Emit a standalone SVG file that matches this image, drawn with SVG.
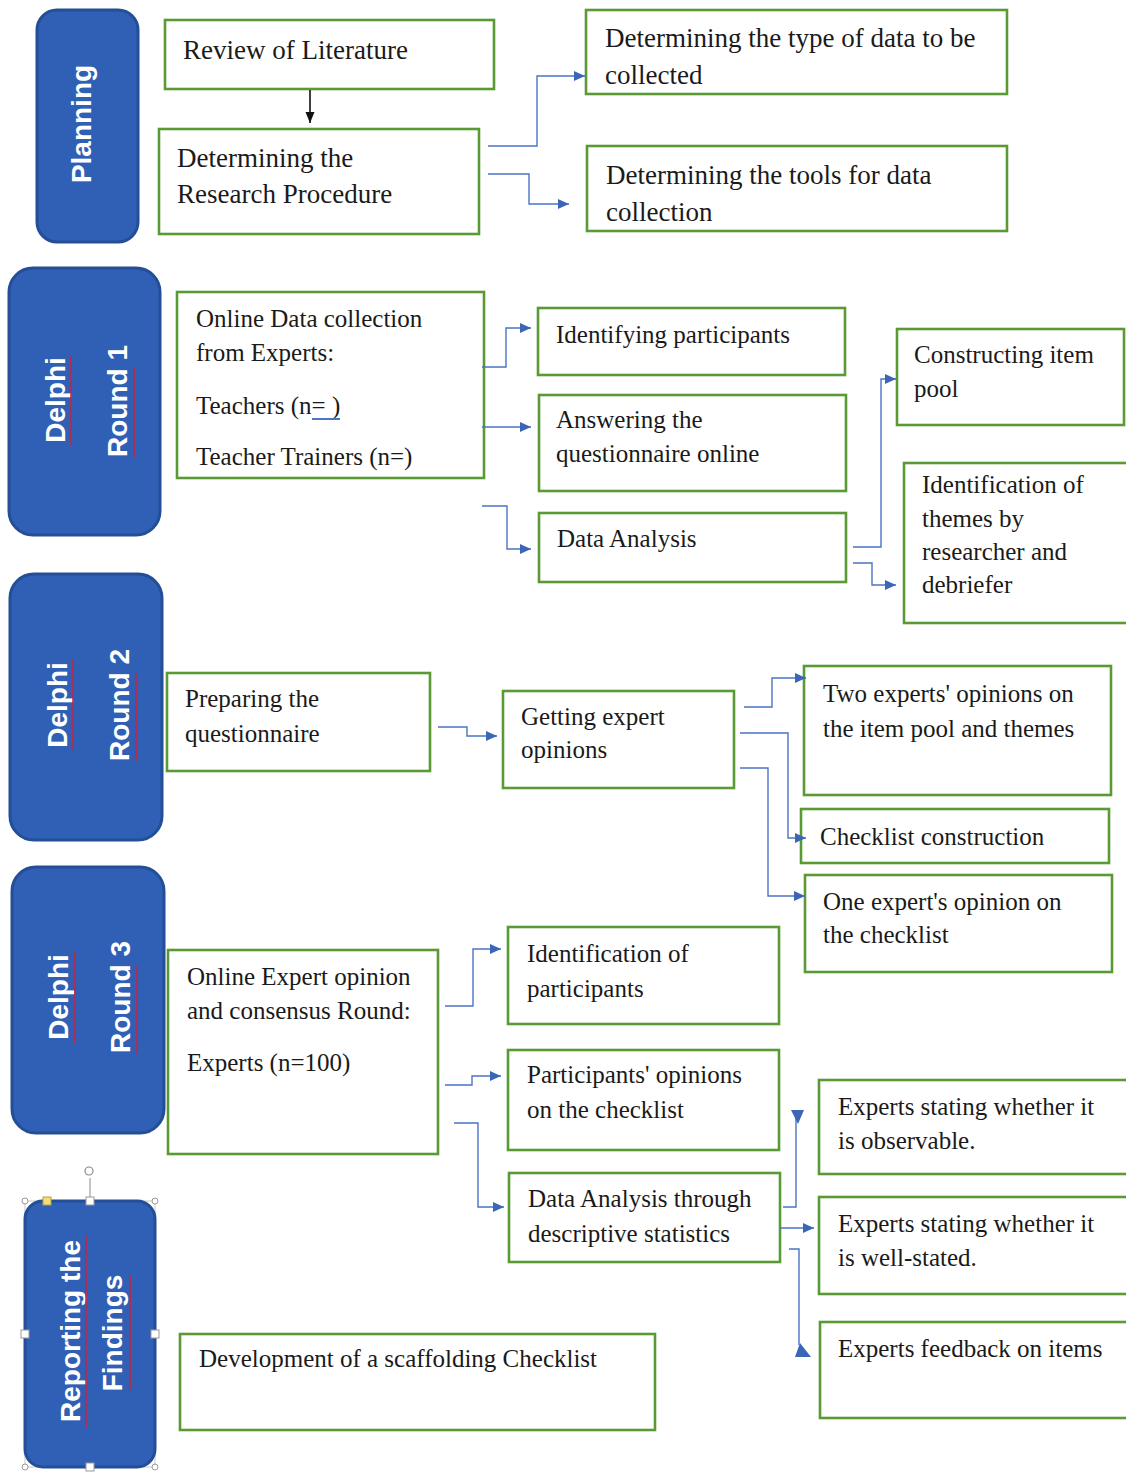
<svg xmlns="http://www.w3.org/2000/svg" width="1126" height="1473" viewBox="0 0 1126 1473">
<style>
.bg{fill:#ffffff}
.phase{fill:#2f60b5;stroke:#244f96;stroke-width:3}
.plabel{font-family:"Liberation Sans",Arial,sans-serif;font-weight:bold;font-size:28px;fill:#ffffff;text-anchor:middle}
.box{fill:#ffffff;stroke:#5a9a34;stroke-width:2.6}
.t{font-family:"Liberation Serif","Times New Roman",serif;font-size:25px;fill:#1a1a1a}
.t27{font-size:27px}
.con{fill:none;stroke:#4a74c4;stroke-width:1.4}
.blk{fill:none;stroke:#111111;stroke-width:1.6}
.tri{fill:#3b66b8}
.sq{stroke:#d0203a;stroke-width:1.5}
.hdl{fill:#ffffff;stroke:#9a9a9a;stroke-width:1}
</style>
<defs>
<marker id="arr" markerUnits="userSpaceOnUse" markerWidth="12" markerHeight="12" refX="11" refY="6" orient="auto">
<path d="M0,1 L11,6 L0,11 z" fill="#3b66b8"/>
</marker>
<marker id="arrk" markerUnits="userSpaceOnUse" markerWidth="12" markerHeight="12" refX="11" refY="6" orient="auto">
<path d="M0,1.5 L11,6 L0,10.5 z" fill="#111111"/>
</marker>
</defs>
<rect class="bg" x="0" y="0" width="1126" height="1473"/>

<!-- Phase labels -->
<g id="phase-planning">
<rect class="phase" x="37" y="10" width="101" height="232" rx="20"/>
<text class="plabel" font-size="27" transform="translate(91,124) rotate(-90)">Planning</text>
</g>
<g id="phase-round1">
<rect class="phase" x="9" y="268" width="151" height="267" rx="24"/>
<text class="plabel" transform="translate(65,400) rotate(-90)">Delphi</text>
<text class="plabel" transform="translate(127,401) rotate(-90)">Round 1</text>
<line class="sq" x1="71" y1="355" x2="71" y2="445"/>
<line class="sq" x1="134" y1="368" x2="134" y2="457"/>
</g>
<g id="phase-round2">
<rect class="phase" x="10" y="574" width="152" height="266" rx="24"/>
<text class="plabel" transform="translate(67,705) rotate(-90)">Delphi</text>
<text class="plabel" transform="translate(129,705) rotate(-90)">Round 2</text>
<line class="sq" x1="73" y1="660" x2="73" y2="750"/>
<line class="sq" x1="136" y1="673" x2="136" y2="762"/>
</g>
<g id="phase-round3">
<rect class="phase" x="12" y="867" width="152" height="266" rx="24"/>
<text class="plabel" transform="translate(68,997) rotate(-90)">Delphi</text>
<text class="plabel" transform="translate(130,997) rotate(-90)">Round 3</text>
<line class="sq" x1="75" y1="952" x2="75" y2="1043"/>
<line class="sq" x1="137" y1="965" x2="137" y2="1053"/>
</g>
<g id="phase-reporting">
<rect x="25" y="1201" width="130" height="266" fill="none" stroke="#c8c8c8" stroke-width="1"/>
<rect class="phase" x="25" y="1201" width="130" height="266" rx="18"/>
<text class="plabel" transform="translate(80,1331) rotate(-90)">Reporting the</text>
<text class="plabel" transform="translate(122,1333) rotate(-90)">Findings</text>
<line class="sq" x1="86" y1="1236" x2="86" y2="1427"/>
<line class="sq" x1="130" y1="1275" x2="130" y2="1390"/>
<line x1="90" y1="1197" x2="90" y2="1178" stroke="#8a8a8a" stroke-width="1"/>
<circle cx="89" cy="1171" r="4" fill="none" stroke="#8a8a8a" stroke-width="1.2"/>
<rect class="hdl" x="86" y="1197" width="8" height="8"/>
<rect class="hdl" x="21" y="1330" width="8" height="8"/>
<rect class="hdl" x="151" y="1330" width="8" height="8"/>
<rect class="hdl" x="86" y="1463" width="8" height="8"/>
<circle class="hdl" cx="25" cy="1201" r="3"/>
<circle class="hdl" cx="155" cy="1201" r="3"/>
<circle class="hdl" cx="25" cy="1467" r="3"/>
<circle class="hdl" cx="155" cy="1467" r="3"/>
<rect x="43" y="1197" width="8" height="8" fill="#f3dc7a" stroke="#b8a040" stroke-width="1"/>
</g>

<!-- Planning nodes -->
<g id="n-review">
<rect class="box" x="165" y="20" width="329" height="69"/>
<text class="t t27" x="183" y="59">Review of Literature</text>
</g>
<g id="n-procedure">
<rect class="box" x="159" y="129" width="320" height="105"/>
<text class="t t27" x="177" y="167">Determining the</text>
<text class="t t27" x="177" y="203">Research Procedure</text>
</g>
<g id="n-type">
<rect class="box" x="586" y="10" width="421" height="84"/>
<text class="t t27" x="605" y="47">Determining the type of data to be</text>
<text class="t t27" x="605" y="84">collected</text>
</g>
<g id="n-tools">
<rect class="box" x="587" y="146" width="420" height="85"/>
<text class="t t27" x="606" y="184">Determining the tools for data</text>
<text class="t t27" x="606" y="221">collection</text>
</g>

<!-- Round 1 nodes -->
<g id="n-online1">
<rect class="box" x="177" y="292" width="307" height="186"/>
<text class="t" x="196" y="327">Online Data collection</text>
<text class="t" x="196" y="361">from Experts:</text>
<text class="t" x="196" y="414">Teachers (n= )</text>
<text class="t" x="196" y="465">Teacher Trainers (n=)</text>
<line x1="312" y1="419" x2="340" y2="419" stroke="#4a74c4" stroke-width="2"/>
</g>
<g id="n-identifying">
<rect class="box" x="538" y="308" width="307" height="67"/>
<text class="t" x="556" y="343">Identifying participants</text>
</g>
<g id="n-answering">
<rect class="box" x="539" y="395" width="307" height="96"/>
<text class="t" x="556" y="428">Answering the</text>
<text class="t" x="556" y="462">questionnaire online</text>
</g>
<g id="n-analysis1">
<rect class="box" x="539" y="513" width="307" height="69"/>
<text class="t" x="557" y="547">Data Analysis</text>
</g>
<g id="n-itempool">
<rect class="box" x="897" y="329" width="227" height="96"/>
<text class="t" x="914" y="363">Constructing item</text>
<text class="t" x="914" y="397">pool</text>
</g>
<g id="n-themes">
<rect class="box" x="904" y="463" width="226" height="160"/>
<text class="t" x="922" y="493">Identification of</text>
<text class="t" x="922" y="527">themes by</text>
<text class="t" x="922" y="560">researcher and</text>
<text class="t" x="922" y="593">debriefer</text>
</g>

<!-- Round 2 nodes -->
<g id="n-preparing">
<rect class="box" x="167" y="673" width="263" height="98"/>
<text class="t" x="185" y="707">Preparing the</text>
<text class="t" x="185" y="742">questionnaire</text>
</g>
<g id="n-getting">
<rect class="box" x="503" y="691" width="231" height="97"/>
<text class="t" x="521" y="725">Getting expert</text>
<text class="t" x="521" y="758">opinions</text>
</g>
<g id="n-twoexperts">
<rect class="box" x="804" y="666" width="307" height="129"/>
<text class="t" x="823" y="702">Two experts' opinions on</text>
<text class="t" x="823" y="737">the item pool and themes</text>
</g>
<g id="n-checklist">
<rect class="box" x="801" y="809" width="308" height="54"/>
<text class="t" x="820" y="845">Checklist construction</text>
</g>
<g id="n-oneexpert">
<rect class="box" x="805" y="875" width="307" height="97"/>
<text class="t" x="823" y="910">One expert's opinion on</text>
<text class="t" x="823" y="943">the checklist</text>
</g>

<!-- Round 3 nodes -->
<g id="n-online3">
<rect class="box" x="168" y="950" width="270" height="204"/>
<text class="t" x="187" y="985">Online Expert opinion</text>
<text class="t" x="187" y="1019">and consensus Round:</text>
<text class="t" x="187" y="1071">Experts (n=100)</text>
</g>
<g id="n-identparticipants">
<rect class="box" x="508" y="927" width="271" height="97"/>
<text class="t" x="527" y="962">Identification of</text>
<text class="t" x="527" y="997">participants</text>
</g>
<g id="n-partopinions">
<rect class="box" x="508" y="1050" width="271" height="100"/>
<text class="t" x="527" y="1083">Participants' opinions</text>
<text class="t" x="527" y="1118">on the checklist</text>
</g>
<g id="n-analysis3">
<rect class="box" x="509" y="1173" width="271" height="89"/>
<text class="t" x="528" y="1207">Data Analysis through</text>
<text class="t" x="528" y="1242">descriptive statistics</text>
</g>
<g id="n-observable">
<rect class="box" x="819" y="1080" width="312" height="94"/>
<text class="t" x="838" y="1115">Experts stating whether it</text>
<text class="t" x="838" y="1149">is observable.</text>
</g>
<g id="n-wellstated">
<rect class="box" x="819" y="1197" width="312" height="97"/>
<text class="t" x="838" y="1232">Experts stating whether it</text>
<text class="t" x="838" y="1266">is well-stated.</text>
</g>
<g id="n-feedback">
<rect class="box" x="820" y="1322" width="312" height="96"/>
<text class="t" x="838" y="1357">Experts feedback on items</text>
</g>

<!-- Reporting node -->
<g id="n-development">
<rect class="box" x="180" y="1334" width="475" height="96"/>
<text class="t" x="199" y="1367">Development of a scaffolding Checklist</text>
</g>

<!-- Connectors -->
<g id="connectors">
<path class="blk" d="M310,90 V123" marker-end="url(#arrk)"/>
<path class="con" d="M488,146 H537 V76 H585" marker-end="url(#arr)"/>
<path class="con" d="M488,174 H529 V204 H569" marker-end="url(#arr)"/>

<path class="con" d="M482,367 H506 V328 H531" marker-end="url(#arr)"/>
<path class="con" d="M482,427 H531" marker-end="url(#arr)"/>
<path class="con" d="M482,506 H507 V549 H531" marker-end="url(#arr)"/>
<path class="con" d="M853,547 H881 V379 H896" marker-end="url(#arr)"/>
<path class="con" d="M853,563 H872 V585 H896" marker-end="url(#arr)"/>

<path class="con" d="M438,727 H467 V736 H497" marker-end="url(#arr)"/>
<path class="con" d="M744,707 H772 V678 H806" marker-end="url(#arr)"/>
<path class="con" d="M740,733 H788 V838 H806" marker-end="url(#arr)"/>
<path class="con" d="M740,768 H768 V896 H805" marker-end="url(#arr)"/>

<path class="con" d="M445,1006 H473 V949 H501" marker-end="url(#arr)"/>
<path class="con" d="M445,1085 H472 V1076 H501" marker-end="url(#arr)"/>
<path class="con" d="M454,1123 H478 V1207 H504" marker-end="url(#arr)"/>

<path class="con" d="M783,1207 H796 V1113"/>
<polygon class="tri" points="791,1110 804,1110 798,1124"/>
<path class="con" d="M780,1228 H814" marker-end="url(#arr)"/>
<path class="con" d="M789,1249 H799 V1345"/>
<polygon class="tri" points="795,1357 811,1357 800,1343"/>
</g>
</svg>
